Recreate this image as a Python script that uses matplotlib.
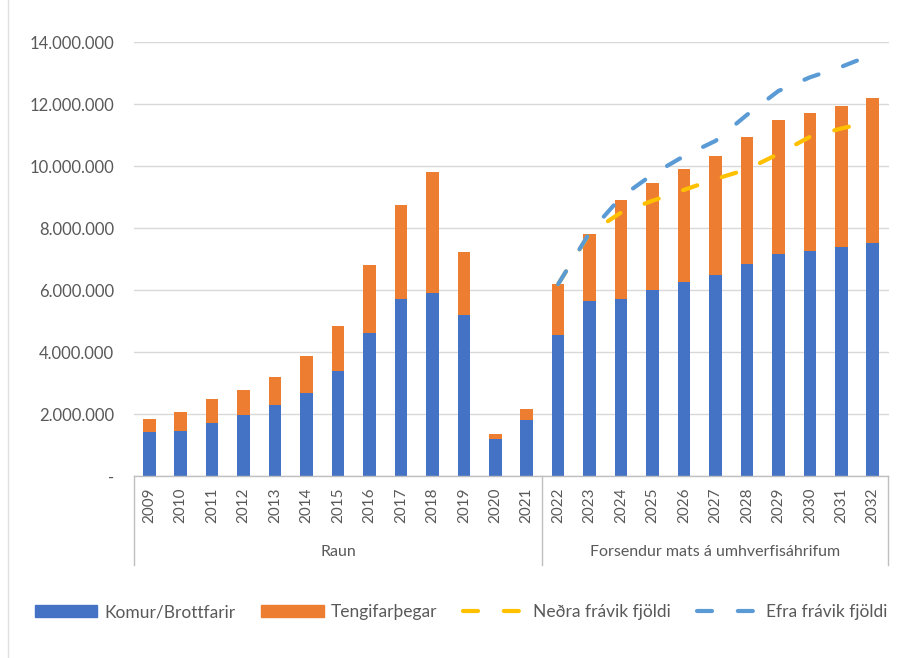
import matplotlib
matplotlib.use("Agg")
import matplotlib.pyplot as plt
import matplotlib.transforms as mtransforms
from matplotlib.patches import Patch
from matplotlib.lines import Line2D
from matplotlib.ticker import FuncFormatter, MultipleLocator

plt.rcParams['font.family'] = ['Lato', 'DejaVu Sans']

years = [str(y) for y in range(2009, 2033)]
groups = ["Raun", "Forsendur mats á umhverfisáhrifum"]
group_sizes = [13, 11]

# values in passengers
komur = [1.42e6, 1.46e6, 1.70e6, 1.96e6, 2.28e6, 2.69e6, 3.39e6, 4.61e6, 5.71e6, 5.90e6, 5.20e6, 1.19e6,
         1.80e6, 4.56e6, 5.65e6, 5.71e6, 6.00e6, 6.25e6, 6.48e6, 6.84e6, 7.15e6, 7.27e6, 7.40e6, 7.53e6]
tengi = [0.41e6, 0.60e6, 0.77e6, 0.81e6, 0.92e6, 1.17e6, 1.46e6, 2.21e6, 3.04e6, 3.90e6, 2.04e6, 0.18e6,
         0.35e6, 1.63e6, 2.17e6, 3.19e6, 3.44e6, 3.65e6, 3.84e6, 4.08e6, 4.33e6, 4.44e6, 4.55e6, 4.66e6]
nedra_years = years[13:]
nedra = [6.19e6, 7.83e6, 8.50e6, 8.88e6, 9.23e6, 9.58e6, 9.89e6, 10.39e6, 10.94e6, 11.21e6, 11.45e6]
efra = [6.19e6, 7.85e6, 9.00e6, 9.73e6, 10.32e6, 10.81e6, 11.65e6, 12.42e6, 12.86e6, 13.20e6, 13.60e6]

BLUE = "#4472C4"
ORANGE = "#ED7D31"
YELLOW = "#FFC000"
LBLUE = "#5B9BD5"
TXT = "#595959"
GRID = "#D9D9D9"

W, H = 908, 658
fig = plt.figure(figsize=(W / 100, H / 100), dpi=100)
left, right, top, bottom = 133.5, 888.5, 42, 476
ax = fig.add_axes([left / W, 1 - bottom / H, (right - left) / W, (bottom - top) / H])

x = list(range(len(years)))
ax.bar(x, komur, width=0.4, color=BLUE, zorder=2)
ax.bar(x, tengi, width=0.4, bottom=komur, color=ORANGE, zorder=2)

xl = [years.index(y) for y in nedra_years]
dash = dict(lw=3, dashes=(3.6, 6.2), dash_capstyle='round', solid_capstyle='round')
ax.plot(xl, nedra, color=YELLOW, zorder=3, **dash)
ax.plot(xl, efra, color=LBLUE, zorder=4, **dash)

ax.set_xlim(-0.5, len(years) - 0.5)
ax.set_ylim(0, 14e6)
ax.yaxis.set_major_locator(MultipleLocator(2e6))


def fmt(v, pos):
    if v == 0:
        return "-"
    return f"{int(round(v)):,}".replace(",", ".")


ax.yaxis.set_major_formatter(FuncFormatter(fmt))
ax.grid(axis='y', color=GRID, lw=1, zorder=0)
ax.set_axisbelow(True)
for s in ['left', 'right', 'top']:
    ax.spines[s].set_visible(False)
ax.spines['bottom'].set_color("#BFBFBF")
ax.spines['bottom'].set_linewidth(1)
ax.tick_params(axis='y', length=0, pad=14, labelsize=12, labelcolor=TXT)
ax.set_xticks(x)
ax.set_xticklabels(years, rotation=90, va='top', ha='center')
ax.tick_params(axis='x', length=0, pad=8, labelsize=11, labelcolor=TXT)

# group separators and labels
trans = mtransforms.blended_transform_factory(ax.transData, ax.transAxes)
ybot = -(565 - bottom) / (bottom - top)
pos = -0.5
bounds = [pos]
for n in group_sizes:
    pos += n
    bounds.append(pos)
for b in bounds:
    ax.plot([b, b], [0, ybot], transform=trans, color="#BFBFBF", lw=1, clip_on=False)
ylab = -(552 - bottom) / (bottom - top)
for g, a, b in zip(groups, bounds[:-1], bounds[1:]):
    ax.text((a + b) / 2, ylab, g, transform=trans, ha='center', va='center', fontsize=11.5, color=TXT)

handles = [Patch(color=BLUE), Patch(color=ORANGE),
           Line2D([], [], color=YELLOW, **dash), Line2D([], [], color=LBLUE, **dash)]
labels = ["Komur/Brottfarir", "Tengifarþegar", "Neðra frávik fjöldi", "Efra frávik fjöldi"]
leg = fig.legend(handles, labels, loc='center', bbox_to_anchor=(461 / W, 1 - 612 / H), ncol=4, frameon=False,
                 fontsize=12.5, handlelength=3.6, handleheight=0.65, handletextpad=0.4, columnspacing=1.5)
for t in leg.get_texts():
    t.set_color(TXT)

# faint border at the left side of the image
fig.add_artist(Line2D([8 / W, 8 / W], [0, 1], transform=fig.transFigure, color="#E0E0E0", lw=1))

fig.savefig("out.png", dpi=100)
